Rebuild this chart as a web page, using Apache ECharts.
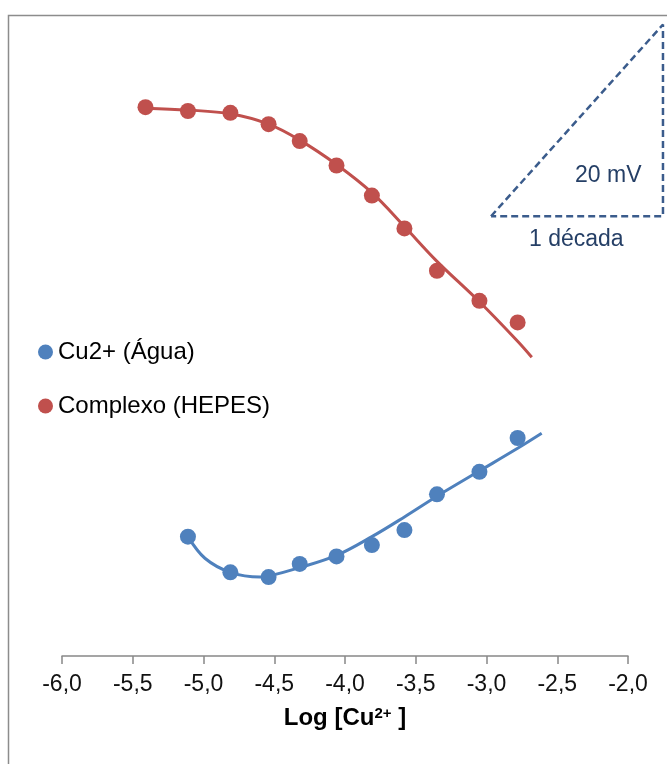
<!DOCTYPE html>
<html>
<head>
<meta charset="utf-8">
<script src="https://cdn.jsdelivr.net/npm/echarts@6/dist/echarts.min.js"></script>
<style>
  html, body { margin: 0; padding: 0; background: #fff; }
  #main-chart { width: 667px; height: 764px; }
</style>
</head>
<body>
<div id="main-chart"></div>
<script>
const fontFamily = 'Liberation Sans, Arial, sans-serif';

// measured points (x = log[Cu2+], y = potential in mV, arbitrary offset)
const aguaX = [-5.11, -4.81, -4.54, -4.32, -4.06, -3.81, -3.58, -3.35, -3.05, -2.78];
const aguaY = [12.7, 8.9, 8.4, 9.8, 10.6, 11.8, 13.4, 17.2, 19.6, 23.2];

const hepesX = [-5.41, -5.11, -4.81, -4.54, -4.32, -4.06, -3.81, -3.58, -3.35, -3.05, -2.78];
const hepesY = [58.4, 58.0, 57.8, 56.6, 54.8, 52.2, 49.0, 45.5, 41.0, 37.8, 35.5];

// trend lines
const aguaTrendX = [-5.11, -4.99, -4.81, -4.60, -4.54, -4.32, -4.06, -3.81, -3.58, -3.35, -3.06, -2.78, -2.61];
const aguaTrendY = [12.7, 10.4, 8.9, 8.4, 8.5, 9.4, 10.7, 12.7, 14.8, 17.0, 19.6, 22.1, 23.7];

const hepesTrendX = [-5.41, -5.11, -4.81, -4.54, -4.32, -4.06, -3.81, -3.58, -3.35, -3.05, -2.78, -2.68];
const hepesTrendY = [58.3, 58.1, 57.7, 56.6, 54.9, 52.3, 49.3, 45.7, 42.0, 37.7, 33.5, 31.8];

// scale triangle (20 mV / 1 decade)
const triangleX = [-2.968, -1.753, -1.753, -2.968];
const triangleY = [46.8, 67.2, 46.8, 46.8];

const xTicks = { min: -6, max: -2, step: 0.5 };

function zip(xs, ys) {
    return xs.map((x, i) => [x, ys[i]]);
}

const blue = '#4f81bd';
const red = '#c0504d';
const navy = '#3b5c8c';
const noteColor = '#253f66';

let mainChart = echarts.init(document.getElementById('main-chart'));

mainChart.setOption({
    animation: false,
    backgroundColor: '#fff',
    textStyle: { fontFamily: fontFamily },
    grid: [
        { left: 62, right: 39, top: 17, bottom: 108 },
        // same scale, wider, only for the scale triangle
        { left: 62, right: 3.6, top: 17, bottom: 108 }
    ],
    legend: {
        orient: 'vertical',
        left: 38,
        top: 340,
        padding: 0,
        itemGap: 30,
        itemWidth: 15,
        itemHeight: 15,
        icon: 'circle',
        data: ['Cu2+ (Água)', 'Complexo (HEPES)'],
        textStyle: { fontSize: 24, color: '#000', fontFamily: fontFamily }
    },
    xAxis: [
        {
            type: 'value',
            min: xTicks.min,
            max: xTicks.max,
            interval: xTicks.step,
            name: 'Log [Cu{sup|2+} ]',
            nameLocation: 'middle',
            nameGap: 50,
            nameTextStyle: {
                fontSize: 24, fontWeight: 'bold', color: '#000', fontFamily: fontFamily,
                rich: {
                    sup: { fontSize: 15, fontWeight: 'bold', color: '#000', verticalAlign: 'top', lineHeight: 15 }
                }
            },
            axisLine: { lineStyle: { color: '#888', width: 1.5 } },
            axisTick: { length: 8, lineStyle: { color: '#888', width: 1.5 } },
            splitLine: { show: false },
            axisLabel: {
                fontSize: 23,
                color: '#111',
                margin: 17,
                fontFamily: fontFamily,
                formatter: v => v.toFixed(1).replace('.', ',')
            }
        },
        { type: 'value', gridIndex: 1, min: -6, max: -1.75, show: false }
    ],
    yAxis: [
        { type: 'value', min: 0, max: 68, show: false },
        { type: 'value', gridIndex: 1, min: 0, max: 68, show: false }
    ],
    series: [
        {
            name: 'trend-hepes', type: 'line', smooth: 0.35, showSymbol: false, silent: true,
            data: zip(hepesTrendX, hepesTrendY),
            lineStyle: { color: red, width: 3 }, z: 2
        },
        {
            name: 'trend-agua', type: 'line', smooth: 0.35, showSymbol: false, silent: true,
            data: zip(aguaTrendX, aguaTrendY),
            lineStyle: { color: blue, width: 3 }, z: 2
        },
        {
            name: 'Cu2+ (Água)', type: 'scatter', symbolSize: 16,
            itemStyle: { color: blue, opacity: 1 },
            data: zip(aguaX, aguaY), z: 3
        },
        {
            name: 'Complexo (HEPES)', type: 'scatter', symbolSize: 16,
            itemStyle: { color: red, opacity: 1 },
            data: zip(hepesX, hepesY), z: 3
        },
        {
            name: 'triangle', type: 'line', xAxisIndex: 1, yAxisIndex: 1,
            showSymbol: false, silent: true,
            data: zip(triangleX, triangleY),
            lineStyle: { color: navy, width: 2.5, type: [7, 4] }, z: 2
        }
    ],
    graphic: [
        {
            type: 'rect', silent: true, z: -1,
            shape: { x: 8.5, y: 15.5, width: 700, height: 800 },
            style: { fill: 'none', stroke: '#8c8c8c', lineWidth: 1.5 }
        },
        {
            type: 'text', left: 575, top: 164, silent: true,
            style: { text: '20 mV', fill: noteColor, fontSize: 23, fontFamily: fontFamily }
        },
        {
            type: 'text', left: 529, top: 228, silent: true,
            style: { text: '1 década', fill: noteColor, fontSize: 23, fontFamily: fontFamily }
        }
    ]
});
</script>
</body>
</html>
